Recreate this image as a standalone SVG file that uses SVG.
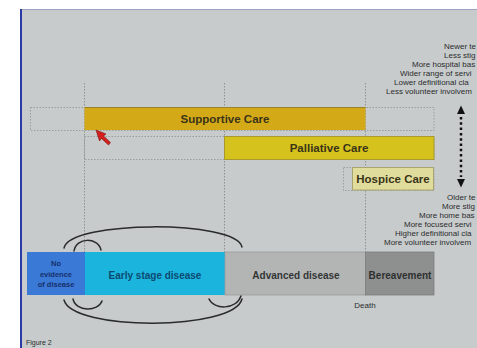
<svg xmlns="http://www.w3.org/2000/svg" width="477" height="348" viewBox="0 0 477 348">
  <style>
    .guide { stroke: #8e9292; stroke-width: 1; stroke-dasharray: 1.5 1.5; fill: none; }
    .slot { stroke: #9a9e9e; stroke-width: 1; stroke-dasharray: 1.5 1.5; fill: none; }
    .care { font-family: "Liberation Sans", Arial, sans-serif; font-weight: bold; font-size: 11.5px; fill: #3a3418; text-anchor: middle; }
    .stage { font-family: "Liberation Sans", Arial, sans-serif; font-weight: bold; font-size: 10px; text-anchor: middle; }
    .note { font-family: "Liberation Sans", Arial, sans-serif; font-size: 8px; fill: #2a2c2c; }
    .arc { stroke: #2a2c2c; stroke-width: 1.5; fill: none; stroke-linecap: round; }
  </style>

  <!-- page and slide panel -->
  <rect x="0" y="0" width="477" height="348" fill="#ffffff"/>
  <rect x="20" y="9" width="457" height="339" fill="#c8cbcc"/>
  <line x1="20" y1="9.5" x2="477" y2="9.5" stroke="#9fa2c4" stroke-width="1"/>
  <line x1="21" y1="9" x2="21" y2="348" stroke="#2c3aa6" stroke-width="2"/>

  <!-- timeline guides -->
  <g id="guides">
    <line class="guide" x1="84.5" y1="83" x2="84.5" y2="252"/>
    <line class="guide" x1="224.5" y1="83" x2="224.5" y2="252"/>
    <line class="guide" x1="365.5" y1="83" x2="365.5" y2="252"/>
  </g>

  <!-- care rows -->
  <g id="supportive-care">
    <rect class="slot" x="30.5" y="107.5" width="403.5" height="23"/>
    <rect x="84.5" y="107" width="281" height="23" fill="#d4a918"/>
    <line x1="84.5" y1="107.5" x2="365.5" y2="107.5" stroke="#9c8226" stroke-width="1"/>
    <text class="care" x="225" y="123">Supportive Care</text>
  </g>

  <g id="palliative-care">
    <rect class="slot" x="84.5" y="136.5" width="349.5" height="23"/>
    <rect x="224.5" y="136.5" width="209.5" height="23" fill="#d6c21c" stroke="#a89a2a" stroke-width="1"/>
    <text class="care" x="329" y="151.5">Palliative Care</text>
  </g>

  <g id="hospice-care">
    <rect class="slot" x="343.5" y="167.5" width="90.5" height="23"/>
    <rect x="352.5" y="167.5" width="81" height="22.5" fill="#e0dc9c" stroke="#a8a470" stroke-width="1"/>
    <text class="care" x="393" y="182.5">Hospice Care</text>
  </g>

  <!-- disease stages -->
  <g id="no-evidence">
    <rect x="27" y="252" width="58" height="43" fill="#3a79d6"/>
    <text class="stage" x="56" y="266" style="font-size:7.5px" fill="#16306c">No</text>
    <text class="stage" x="56" y="276.5" style="font-size:7.5px" fill="#16306c">evidence</text>
    <text class="stage" x="56" y="287" style="font-size:7.5px" fill="#16306c">of disease</text>
  </g>

  <g id="early-stage">
    <rect x="85" y="252" width="140" height="43" fill="#1bb4dc"/>
    <text class="stage" x="155" y="278.5" fill="#0d4a72">Early stage disease</text>
  </g>

  <g id="advanced">
    <rect x="225" y="252" width="140.5" height="43" fill="#b3b5b5" stroke="#9a9c9c" stroke-width="0.8"/>
    <text class="stage" x="296" y="278.5" fill="#333535">Advanced disease</text>
  </g>

  <g id="bereavement">
    <rect x="365.5" y="252" width="68.5" height="43" fill="#8e9090" stroke="#7c7e7e" stroke-width="0.8"/>
    <text class="stage" x="400" y="278.5" fill="#2e3030">Bereavement</text>
  </g>

  <text class="note" x="365" y="307.5" text-anchor="middle">Death</text>

  <!-- connectors: loops around the early stage and the direction arrow -->
  <g id="connectors">
    <path class="arc" d="M64,248 C70,220 236,220 242,247"/>
    <path class="arc" d="M74,251 C76,237 98,237 101,250"/>
    <path class="arc" d="M64,300 C72,331 234,331 242,299"/>
    <path class="arc" d="M73,299 C76,312 98,312 102,301"/>
    <path class="arc" d="M209,299 C214,310 236,310 241,296"/>

    <polygon points="461,105.5 457,114 465,114" fill="#111"/>
    <line x1="461" y1="117" x2="461" y2="177" stroke="#111" stroke-width="2.5" stroke-dasharray="2.5 2.8"/>
    <polygon points="461,187.5 457,179 465,179" fill="#111"/>
  </g>

  <!-- side notes, running up to the right edge -->
  <g id="notes-upper" class="note">
    <text x="444" y="48.5">Newer te</text>
    <text x="444" y="57.5">Less stig</text>
    <text x="412" y="66.5">More hospital bas</text>
    <text x="400" y="75.5">Wider range of servi</text>
    <text x="394" y="84.5">Lower definitional cla</text>
    <text x="386" y="93.5">Less volunteer involvem</text>
  </g>

  <g id="notes-lower" class="note">
    <text x="447" y="200">Older te</text>
    <text x="442" y="209">More stig</text>
    <text x="419" y="218">More home bas</text>
    <text x="404" y="227">More focused servi</text>
    <text x="395" y="236">Higher definitional cla</text>
    <text x="384" y="245">More volunteer involvem</text>
  </g>

  <!-- pointer -->
  <polygon points="96,130 106,134 103.5,136 110.5,142.5 108.5,145 101.5,138.5 99.5,141" fill="#d4201c" stroke="#7a1410" stroke-width="0.6"/>

  <text class="note" x="26" y="345" style="font-size:7px">Figure 2</text>
</svg>
